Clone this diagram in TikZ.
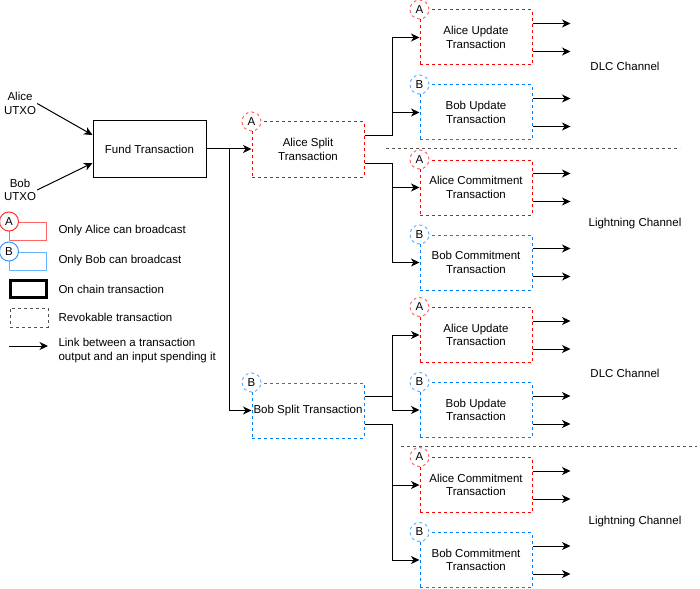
\documentclass[tikz,border=0pt]{standalone}
\usepackage{fontspec}
\setmainfont{Liberation Sans}
\usetikzlibrary{positioning,calc,arrows.meta}

\definecolor{alicered}{HTML}{FF0000}
\definecolor{alicebadge}{HTML}{FF6666}
\definecolor{bobblue}{HTML}{007FFF}
\definecolor{bobbadge}{HTML}{66B2FF}
\definecolor{legred}{HTML}{FF6666}
\definecolor{legredc}{HTML}{FF3333}
\definecolor{legblue}{HTML}{66B2FF}
\definecolor{legbluec}{HTML}{3399FF}
\definecolor{sepgray}{HTML}{555555}

\tikzset{
  tx/.style={rectangle, minimum width=112pt, minimum height=55pt, inner sep=0pt, align=center, dash pattern=on 3pt off 3pt, line width=1pt},
  alicetx/.style={tx, draw=alicered},
  bobtx/.style={tx, draw=bobblue},
  badge/.style={circle, fill=white, minimum size=19pt, inner sep=0pt, line width=1pt},
  abadge/.style={badge, draw=alicebadge, dash pattern=on 3pt off 3pt},
  bbadge/.style={badge, draw=bobbadge, dash pattern=on 3pt off 3pt},
  link/.style={-{Stealth[length=8.5pt,width=8pt,inset=2.5pt]}, line width=1pt},
  sep/.style={draw=sepgray, dash pattern=on 3pt off 3pt, line width=1pt},
  lbl/.style={align=center, inner sep=1pt},
  legtxt/.style={anchor=west, align=left},
}

\begin{document}
\begin{tikzpicture}[x=1pt, y=-1pt, node distance=19pt, font=\fontsize{11.5}{13.5}\selectfont]
\useasboundingbox (0,0) rectangle (700,588);

\node[lbl] (autxo) at (20,103.5) {Alice\\UTXO};
\node[lbl] (butxo) at (20,190) {Bob\\UTXO};
\node[draw, line width=1pt, minimum width=113pt, minimum height=56pt] (fund) at (149.5,149) {Fund Transaction};
\node[alicetx] (asplit) at (308,149.5) {Alice Split\\Transaction};
\node[bobtx] (bsplit) at (308,410.5) {Bob Split Transaction};

\node[alicetx] (aupd1) at (476,37.5) {Alice Update\\Transaction};
\node[bobtx, below=of aupd1] (bupd1) {Bob Update\\Transaction};
\node[alicetx, below=of bupd1] (acom1) {Alice Commitment\\Transaction};
\node[bobtx, below=of acom1] (bcom1) {Bob Commitment\\Transaction};

\node[alicetx] (aupd2) at (476,335) {Alice Update\\Transaction};
\node[bobtx, below=of aupd2] (bupd2) {Bob Update\\Transaction};
\node[alicetx, below=of bupd2] (acom2) {Alice Commitment\\Transaction};
\node[bobtx, below=of acom2] (bcom2) {Bob Commitment\\Transaction};

\foreach \nd in {asplit,aupd1,acom1,aupd2,acom2}
  \node[abadge] (\nd-badge) at (\nd.north west) {A};
\foreach \nd in {bsplit,bupd1,bcom1,bupd2,bcom2}
  \node[bbadge] (\nd-badge) at (\nd.north west) {B};

\node (dlc1) at (625,66) {DLC Channel};
\node (ln1) at (635,224) {Lightning Channel};
\node (dlc2) at (625,373) {DLC Channel};
\node (ln2) at (635,522) {Lightning Channel};

\coordinate (sep1l) at (386,149);
\coordinate (sep1r) at (680,149);
\coordinate (sep2l) at (401,446);
\coordinate (sep2r) at (697,446);
\draw[sep] (sep1l) -- (sep1r);
\draw[sep] (sep2l) -- (sep2r);

\draw[link] (autxo.east) -- ([yshift=14pt]fund.west);
\draw[link] (butxo.east) -- ([yshift=-14pt]fund.west);
\draw[link] (fund.east) -- (fund.east -| asplit.west);
\coordinate (fjunc) at ([xshift=23pt]fund.east);
\draw[link] (fjunc) |- (bsplit.west);

\coordinate (ajunc1) at ([xshift=28pt,yshift=14pt]asplit.east);
\coordinate (ajunc2) at ([xshift=28pt,yshift=-14pt]asplit.east);
\draw[link] ([yshift=14pt]asplit.east) -- (ajunc1) |- (aupd1.west);
\draw[link] (ajunc1) |- (bupd1.west);
\draw[link] ([yshift=-14pt]asplit.east) -- (ajunc2) |- (acom1.west);
\draw[link] (ajunc2) |- (bcom1.west);

\coordinate (bjunc1) at ([xshift=28pt,yshift=14pt]bsplit.east);
\coordinate (bjunc2) at ([xshift=28pt,yshift=-14pt]bsplit.east);
\draw[link] ([yshift=14pt]bsplit.east) -- (bjunc1) |- (aupd2.west);
\draw[link] (bjunc1) |- (bupd2.west);
\draw[link] ([yshift=-14pt]bsplit.east) -- (bjunc2) |- (acom2.west);
\draw[link] (bjunc2) |- (bcom2.west);

\foreach \nd in {aupd1,bupd1,acom1,bcom1,aupd2,bupd2,acom2,bcom2} {
  \coordinate (\nd-out1) at ([xshift=38pt,yshift=14pt]\nd.east);
  \coordinate (\nd-out2) at ([xshift=38pt,yshift=-14pt]\nd.east);
  \draw[link] ([yshift=14pt]\nd.east) -- (\nd-out1);
  \draw[link] ([yshift=-14pt]\nd.east) -- (\nd-out2);
}

\node[draw=legred, line width=1pt, minimum width=37pt, minimum height=18pt] (legalice) at (28,231) {};
\node[badge, draw=legredc] (legalice-badge) at (legalice.north west) {A};
\node[legtxt] (legalicetxt) at (55,231) {Only Alice can broadcast};
\node[draw=legblue, line width=1pt, minimum width=37pt, minimum height=18pt] (legbob) at (28,261) {};
\node[badge, draw=legbluec] (legbob-badge) at (legbob.north west) {B};
\node[legtxt] (legbobtxt) at (55,261) {Only Bob can broadcast};
\node[draw, line width=3pt, minimum width=36pt, minimum height=17pt] (legchain) at (28.5,289) {};
\node[legtxt] (legchaintxt) at (55,289) {On chain transaction};
\node[draw=sepgray, dash pattern=on 3pt off 3pt, line width=1pt, minimum width=38pt, minimum height=19pt] (legrevoke) at (29,317.5) {};
\node[legtxt] (legrevoketxt) at (55,317.5) {Revokable transaction};
\coordinate (legarrl) at (9,346);
\coordinate (legarrr) at (48,346);
\draw[link] (legarrl) -- (legarrr);
\node[legtxt] (leglinktxt) at (55,350.5) {Link between a transaction\\output and an input spending it};
\end{tikzpicture}
\end{document}
